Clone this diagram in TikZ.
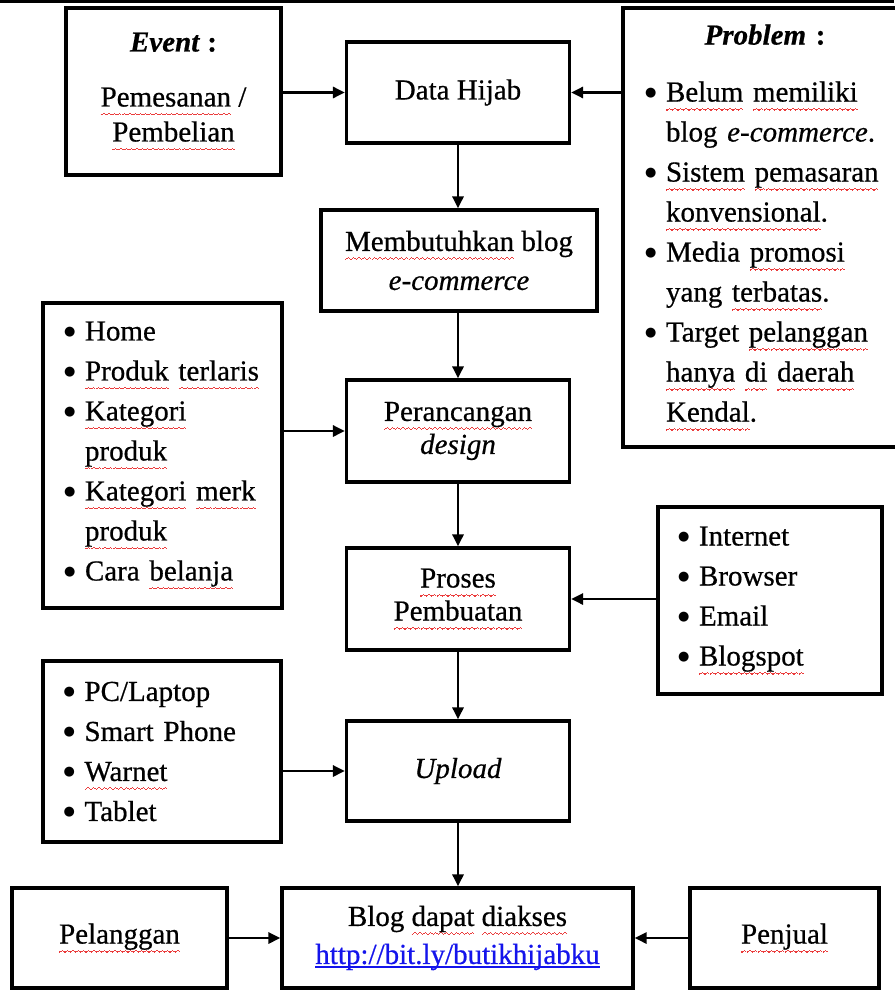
\documentclass[tikz,border=0pt]{standalone}
\usepackage{fontspec}
\setmainfont[FakeBold=0.6]{Liberation Serif}
\newfontfamily\dejavu{DejaVu Sans}
\usetikzlibrary{arrows.meta}
\definecolor{wavered}{RGB}{235,60,60}
\definecolor{linkblue}{RGB}{20,20,235}
\newcommand\wavecell{\hbox{\rule[0pt]{1.3pt}{1.1pt}\rule[0.8pt]{1.3pt}{1.1pt}\rule[1.6pt]{1.3pt}{1.1pt}\rule[0.8pt]{1.3pt}{1.1pt}}}
\newcommand\rw[1]{\leavevmode\setbox0\hbox{#1}\rlap{\color{wavered}\lower9pt\hbox to\wd0{\xleaders\wavecell\hfil}}\box0\relax}
\newcommand\lnk[1]{\leavevmode\setbox0\hbox{#1}\rlap{\rule[-4pt]{\wd0}{1.6pt}}\box0\relax}
\newcommand\bl{\makebox[21pt][l]{\raisebox{5pt}{\dejavu\fontsize{13}{13}\selectfont ●}}}
\newcommand\hi{\hspace*{21pt}}
\begin{document}
\begin{tikzpicture}[x=1pt,y=-1pt,
  box/.style={draw,line width=3.2pt,inner sep=0pt,align=center,
    font=\fontsize{29}{40}\selectfont},
  listbox/.style={box,align=left},
  arr/.style={line width=2.8pt,-{Triangle[length=12pt,width=11pt]}}]
\useasboundingbox (0,0) rectangle (894,990);
\draw[line width=3.5pt] (0,1.5) -- (894,1.5);
% boxes
\node[box,minimum width=215pt,minimum height=167pt] (ev) at (173.5,91.5)
  {\textbf{\textit{Event} :}\\[15pt]\rw{Pemesanan} /\\[-5pt]\rw{Pembelian}};
\node[box,minimum width=223pt,minimum height=101pt] (dh) at (458,92.5) {Data Hijab};
\node[listbox,minimum width=284pt,minimum height=439pt,text width=240pt] (pr) at (765,227.5)
  {\makebox[240pt]{\textbf{\textit{Problem} :}}\\[17pt]
   \bl\rw{Belum} \rw{memiliki}\\
   \hi blog \textit{e-commerce}.\\
   \bl\rw{Sistem} \rw{pemasaran}\\
   \hi\rw{konvensional}.\\
   \bl Media \rw{promosi}\\
   \hi yang \rw{terbatas}.\\
   \bl Target \rw{pelanggan}\\
   \hi\rw{hanya} \rw{di} \rw{daerah}\\
   \hi\rw{Kendal}.};
\node[box,minimum width=276pt,minimum height=101pt] (mb) at (459,260.5)
  {\rw{Membutuhkan} blog\\[-1pt]\textit{e-commerce}};
\node[listbox,minimum width=239pt,minimum height=305pt,text width=197pt] (l1) at (162.5,455.5)
  {\bl Home\\
   \bl\rw{Produk} \rw{terlaris}\\
   \bl\rw{Kategori}\\
   \hi\rw{produk}\\
   \bl\rw{Kategori} \rw{merk}\\
   \hi\rw{produk}\\
   \bl Cara \rw{belanja}};
\node[box,minimum width=223pt,minimum height=102pt] (pd) at (458,431)
  {\rw{Perancangan}\\[-7pt]\textit{design}};
\node[listbox,minimum width=224pt,minimum height=187pt,text width=184pt] (l2) at (770,600.5)
  {\bl Internet\\
   \bl Browser\\
   \bl Email\\
   \bl\rw{Blogspot}};
\node[box,minimum width=223pt,minimum height=102pt] (ps) at (458,599)
  {\rw{Proses}\\[-7pt]\rw{Pembuatan}};
\node[listbox,minimum width=238pt,minimum height=181pt,text width=197pt] (pc) at (162,751.5)
  {\bl PC/Laptop\\
   \bl Smart Phone\\
   \bl\rw{Warnet}\\
   \bl Tablet};
\node[box,minimum width=223pt,minimum height=100pt] (up) at (458,771) {\textit{Upload}};
\node[box,minimum width=215pt,minimum height=100pt] (pl) at (119.5,938) {\rw{Pelanggan}};
\node[box,minimum width=351pt,minimum height=100pt] (bl) at (457.5,938)
  {Blog \rw{dapat} \rw{diakses}\\[-2pt]{\color{linkblue}\lnk{http://bit.ly/butikhijabku}}};
\node[box,minimum width=189pt,minimum height=100pt] (pj) at (784.5,938) {\rw{Penjual}};
% connectors
\draw[arr] (ev.east |- dh) -- (dh.west);
\draw[arr] (pr.west |- dh) -- (dh.east);
\draw[arr] (dh.south) -- (dh.south |- mb.north);
\draw[arr] (mb.south -| dh.south) -- (pd.north -| dh.south);
\draw[arr] (l1.east |- pd) -- (pd.west);
\draw[arr] (pd.south) -- (ps.north);
\draw[arr] (l2.west |- ps) -- (ps.east);
\draw[arr] (ps.south) -- (up.north);
\draw[arr] (pc.east |- up) -- (up.west);
\draw[arr] (up.south) -- (up.south |- bl.north);
\draw[arr] (pl.east |- bl) -- (bl.west);
\draw[arr] (pj.west |- bl) -- (bl.east);
\end{tikzpicture}
\end{document}
